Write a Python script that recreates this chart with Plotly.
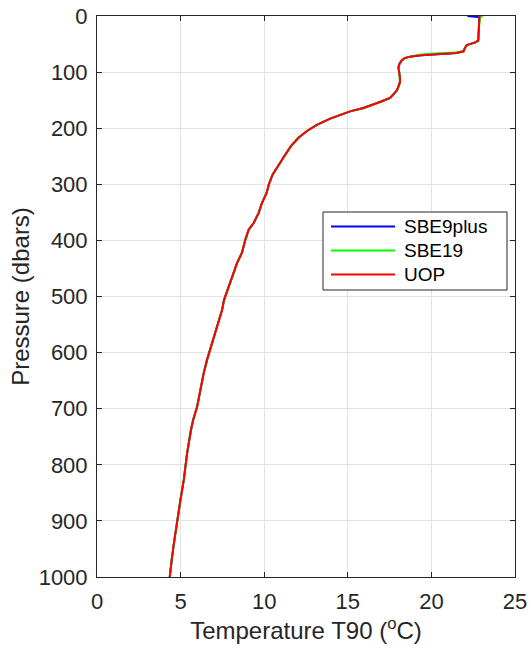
import plotly.graph_objects as go

# Temperature profile (T90, degC) versus pressure (dbar) for three CTD sensors.
# Below ~80 dbar the three casts coincide, so they share the deep profile.
p_deep = [80, 86, 92, 100, 110, 118, 125, 132, 140, 146, 152, 158, 164, 170, 176,
          183, 194, 205, 217, 232, 250, 268, 283, 300, 315, 333, 351, 369, 381,
          399, 422, 440, 464, 490, 506, 524, 553, 583, 613, 637, 666, 696, 720,
          738, 779, 827, 863, 898, 934, 964, 1000]
t_deep = [18.2, 18.08, 18.03, 18.08, 18.12, 18.12, 18.05, 17.95, 17.72, 17.53, 17.04,
          16.54, 15.94, 15.14, 14.55, 13.95, 13.15, 12.56, 12.05, 11.6, 11.2, 10.8,
          10.5, 10.28, 10.15, 9.87, 9.67, 9.37, 9.07, 8.87, 8.67, 8.38, 8.08, 7.78,
          7.6, 7.48, 7.18, 6.88, 6.58, 6.38, 6.18, 5.99, 5.75, 5.62, 5.39, 5.19,
          4.99, 4.79, 4.63, 4.49, 4.35]

# Upper mixed layer and thermocline, per instrument
p_uop_top = [0, 5, 15, 25, 35, 44, 47, 49, 52, 56, 63, 66, 67, 68.5, 70, 72, 75]
t_uop_top = [22.88, 22.86, 22.85, 22.84, 22.83, 22.80, 22.62, 22.35, 22.12, 22.02,
             21.92, 21.5, 20.8, 20.0, 19.4, 18.8, 18.4]

p_sbe19_top = [0, 1, 3, 15, 25, 35, 44, 47, 49, 52, 56, 63, 65, 66, 67.5, 69, 71.5, 75]
t_sbe19_top = [22.95, 23.0, 22.9, 22.85, 22.84, 22.83, 22.80, 22.62, 22.35, 22.12,
               22.02, 21.92, 21.4, 20.6, 19.9, 19.3, 18.8, 18.4]

p_sbe9_top = [0, 0.5, 1, 1.5, 2, 5, 15, 25, 35, 44, 47, 49, 52, 56, 63, 66, 67, 68.5,
              70, 72, 75]
t_sbe9_top = [22.15, 22.5, 22.3, 22.7, 22.82, 22.86, 22.85, 22.84, 22.83, 22.80, 22.62,
              22.35, 22.12, 22.02, 21.92, 21.5, 20.8, 20.0, 19.4, 18.8, 18.4]

series_names = ["SBE9plus", "SBE19", "UOP"]
series_colors = ["#0000ff", "#00ff00", "#ff0000"]
series_p = [p_sbe9_top, p_sbe19_top, p_uop_top]
series_t = [t_sbe9_top, t_sbe19_top, t_uop_top]

FONT = "Liberation Sans, Arial, Helvetica, sans-serif"
INK = "#262626"

W, H = 531, 651
M = dict(l=97, r=16, t=16, b=74)
PW = W - M["l"] - M["r"]
PH = H - M["t"] - M["b"]


def px_to_paper(px, py):
    """Convert a page pixel position into paper coordinates of the plot area."""
    return (px - M["l"]) / PW, 1 - (py - M["t"]) / PH


fig = go.Figure()
for name, color, p_top, t_top in zip(series_names, series_colors, series_p, series_t):
    fig.add_trace(go.Scatter(
        x=t_top + t_deep, y=p_top + p_deep, mode="lines", name=name,
        line=dict(color=color, width=2), showlegend=False,
    ))

# Boxed legend with long line samples
shapes, annotations = [], []
bx0, by0 = px_to_paper(323, 212)
bx1, by1 = px_to_paper(507, 290)
shapes.append(dict(type="rect", xref="paper", yref="paper", x0=bx0, x1=bx1, y0=by1, y1=by0,
                   line=dict(color=INK, width=1), fillcolor="white", layer="above"))
for i, (name, color) in enumerate(zip(series_names, series_colors)):
    row_y = 226.5 + i * 24
    lx0, ly = px_to_paper(331, row_y)
    lx1, _ = px_to_paper(395, row_y)
    shapes.append(dict(type="line", xref="paper", yref="paper", x0=lx0, x1=lx1, y0=ly, y1=ly,
                       line=dict(color=color, width=2), layer="above"))
    tx, _ = px_to_paper(402, row_y)
    annotations.append(dict(text=name, xref="paper", yref="paper", x=tx, y=ly,
                            xanchor="left", yanchor="middle", showarrow=False,
                            font=dict(family=FONT, size=19, color="black")))

axis_common = dict(
    showline=True, linecolor=INK, linewidth=1, mirror="ticks",
    ticks="inside", ticklen=5, tickcolor=INK,
    showgrid=True, gridcolor="#e3e3e3", gridwidth=1,
    zeroline=False, automargin=False,
    tickfont=dict(family=FONT, size=22, color=INK),
)

fig.update_layout(
    width=W, height=H,
    margin=M,
    paper_bgcolor="white", plot_bgcolor="white",
    font=dict(family=FONT, color=INK),
    xaxis=dict(
        range=[0, 25], dtick=5, tick0=0,
        title=dict(text="Temperature T90 (<sup>o</sup>C)", font=dict(family=FONT, size=24, color=INK), standoff=6),
        ticklabelstandoff=5,
        **axis_common,
    ),
    yaxis=dict(
        range=[1000, 0], dtick=100, tick0=0,
        title=dict(text="Pressure (dbars)", font=dict(family=FONT, size=24, color=INK), standoff=2),
        ticklabelstandoff=4,
        **axis_common,
    ),
    shapes=shapes,
    annotations=annotations,
    showlegend=False,
)

fig.write_html("out.html")
